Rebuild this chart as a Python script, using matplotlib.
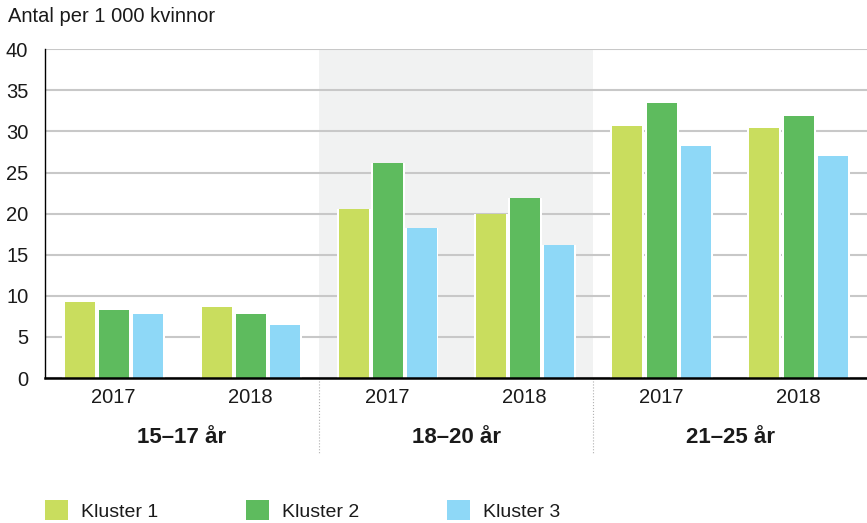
import numpy as np
import matplotlib.pyplot as plt
from matplotlib import font_manager

names = {f.name for f in font_manager.fontManager.ttflist}
base = 'Liberation Sans Narrow' if 'Liberation Sans Narrow' in names else 'Liberation Sans'
plt.rcParams['font.family'] = [base, 'DejaVu Sans']

# data
years = ['2017', '2018']
groups = ['15–17 år', '18–20 år', '21–25 år']
series = ['Kluster 1', 'Kluster 2', 'Kluster 3']
kluster1 = [9.3, 8.7, 20.6, 19.9, 30.7, 30.4]
kluster2 = [8.3, 7.8, 26.2, 21.9, 33.5, 31.9]
kluster3 = [7.8, 6.5, 18.2, 16.2, 28.2, 27.0]
colors = ['#c9dd5e', '#5ebb5e', '#8ed8f7']

fig = plt.figure(figsize=(8.67, 5.23), dpi=100)
ax = fig.add_axes([45 / 867, 145 / 523, 822 / 867, 328.7 / 523])

x = np.arange(len(kluster1)) + 0.5
step = 34 / 137
w = 30 / 137

# shaded middle group
ax.axvspan(2, 4, color='#f1f2f2', zorder=0, lw=0)

handles = []
for i, vals in enumerate([kluster1, kluster2, kluster3]):
    xs = x + (i - 1) * step
    ax.bar(xs, vals, width=step, color='white', zorder=2, lw=0)
    b = ax.bar(xs, vals, width=w, color=colors[i], zorder=3, lw=0)
    handles.append(b)

ax.set_xlim(0, 6)
ax.set_ylim(0, 40)
ax.set_yticks(range(0, 41, 5))
ax.yaxis.grid(True, color='#c8c8c8', lw=1.5, zorder=1)
ax.set_axisbelow(True)
for s in ['top', 'right']:
    ax.spines[s].set_visible(False)
ax.spines['left'].set_color('black')
ax.spines['left'].set_linewidth(1.0)
ax.spines['bottom'].set_color('black')
ax.spines['bottom'].set_linewidth(1.8)
ax.spines['bottom'].set_zorder(5)
ax.tick_params(axis='y', length=0, pad=12, labelsize=14.5, colors='#1a1a1a')
ax.set_xticks(x)
ax.set_xticklabels(years * 3)
ax.tick_params(axis='x', length=0, pad=7, labelsize=14.5, colors='#1a1a1a')

tr = ax.get_xaxis_transform()
for g, name in enumerate(groups):
    ax.text(2 * g + 1, -0.18, name, transform=tr, ha='center', va='center',
            fontsize=16, fontweight='bold', color='#1a1a1a')
for sep in [2, 4]:
    ax.plot([sep, sep], [0, -0.228], transform=tr, clip_on=False,
            color='#b0b0b0', lw=0.8, ls=':')

fig.text(8 / 867, 1 - 22 / 523, 'Antal per 1 000 kvinnor', fontsize=14.5,
         va='baseline', ha='left', color='#1a1a1a')

leg_x = [45, 246, 447]
for i in range(3):
    fig.legend([handles[i]], [series[i]], loc='center left',
               bbox_to_anchor=(leg_x[i] / 867, 1 - 510.5 / 523),
               frameon=False, fontsize=14, handlelength=1.19, handleheight=1.19,
               handletextpad=0.67, borderpad=0, borderaxespad=0,
               labelcolor='#1a1a1a')

fig.savefig('out.png', dpi=100)
